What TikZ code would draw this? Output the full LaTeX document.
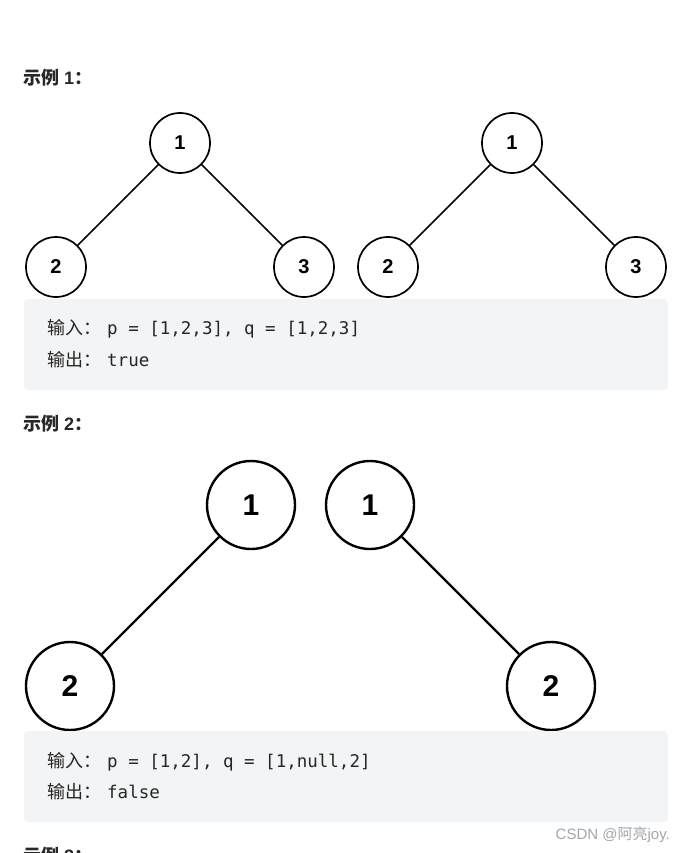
\documentclass[tikz,border=0pt]{standalone}
\usepackage{fontspec}
\setmainfont{Liberation Sans}
\setmonofont{DejaVu Sans Mono}
\newfontfamily\cjk{Noto Sans CJK SC}
\usepackage{tikz}
\usepackage{xcolor}
\definecolor{codegray}{RGB}{243,244,245}
\definecolor{titlegray}{RGB}{40,40,40}
\definecolor{markgray}{RGB}{165,165,165}

\begin{document}
\begin{tikzpicture}[
    x=1pt, y=-1pt,
    smallnode/.style={draw, circle, line width=1.7pt, fill=white, minimum size=60pt, inner sep=0pt, font=\fontsize{20}{20}\selectfont\bfseries},
    bignode/.style={draw, circle, line width=2.4pt, fill=white, minimum size=88pt, inner sep=0pt, font=\fontsize{30}{30}\selectfont\bfseries},
    codebox/.style={fill=codegray, rounded corners=4pt},
    title/.style={anchor=west, inner sep=0pt, font=\bfseries\fontsize{18}{18}\selectfont, text=titlegray},
    codeline/.style={anchor=west, inner sep=0pt, font=\fontsize{17.5}{17.5}\selectfont\ttfamily, text=black!85}
]
\useasboundingbox (0,0) rectangle (680,853);

% Example 1
\node[title] (t1) at (23,78) {{\cjk 示例} 1{\cjk ：}};

\node[smallnode] (a1) at (180,143) {1};
\node[smallnode] (a2) at (56,267) {2};
\node[smallnode] (a3) at (304,267) {3};
\draw[line width=1.7pt] (a1) -- (a2);
\draw[line width=1.7pt] (a1) -- (a3);

\node[smallnode] (b1) at (512,143) {1};
\node[smallnode] (b2) at (388,267) {2};
\node[smallnode] (b3) at (636,267) {3};
\draw[line width=1.7pt] (b1) -- (b2);
\draw[line width=1.7pt] (b1) -- (b3);

\fill[codebox] (24,299) rectangle (668,390);
\node[codeline] (in1) at (47,329) {\makebox[60pt][l]{\cjk\fontsize{18}{18}\selectfont 输入：}p = [1,2,3], q = [1,2,3]};
\node[codeline] (out1) at (47,360) {\makebox[60pt][l]{\cjk\fontsize{18}{18}\selectfont 输出：}true};

% Example 2
\node[title] (t2) at (23,424) {{\cjk 示例} 2{\cjk ：}};

\node[bignode] (c1) at (251,505) {1};
\node[bignode] (c2) at (70,686) {2};
\draw[line width=2.4pt] (c1) -- (c2);

\node[bignode] (d1) at (370,505) {1};
\node[bignode] (d2) at (551,686) {2};
\draw[line width=2.4pt] (d1) -- (d2);

\fill[codebox] (24,731) rectangle (668,822);
\node[codeline] (in2) at (47,762) {\makebox[60pt][l]{\cjk\fontsize{18}{18}\selectfont 输入：}p = [1,2], q = [1,null,2]};
\node[codeline] (out2) at (47,792) {\makebox[60pt][l]{\cjk\fontsize{18}{18}\selectfont 输出：}false};

% watermark and next title
\node[anchor=east, inner sep=0pt, text=markgray, font=\fontsize{15}{15}\selectfont] (mark) at (670,835) {CSDN @{\cjk 阿亮}joy.};
\node[title] (t3) at (23,856) {{\cjk 示例} 3{\cjk ：}};

\end{tikzpicture}
\end{document}
